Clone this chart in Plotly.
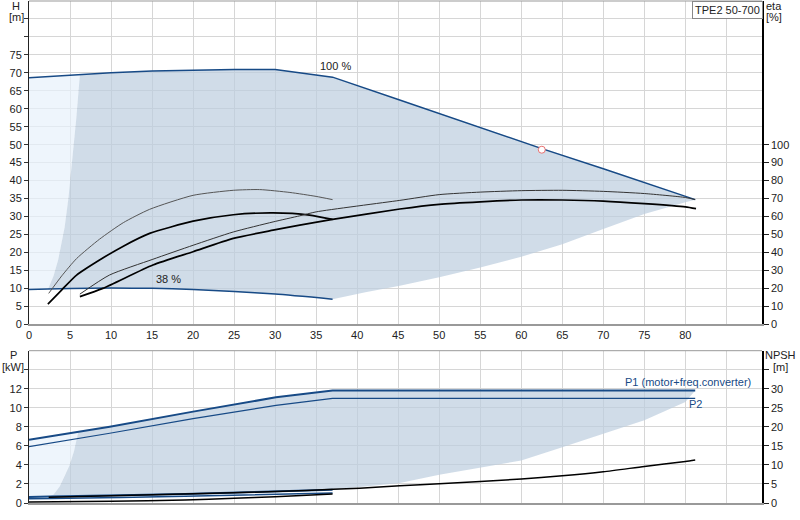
"""TPE2 50-700 pump curve chart: H/eta on top, P/NPSH below."""

import plotly.graph_objects as go

# ---- data (Q in m3/h) ----
# head at max speed (100 %) and min speed (38 %)
q_max = [0, 6.2, 10, 15, 20, 25, 30, 37, 45, 50, 55, 62.5, 70, 75, 81.2]
h_max = [68.6, 69.5, 70.0, 70.5, 70.8, 70.9, 70.9, 68.8, 62.6, 58.7, 54.9, 48.9, 43.3, 39.5, 34.7]
q_min = [0, 2.3, 5, 10, 15, 20, 25, 30, 37]
h_min = [9.7, 9.8, 9.95, 10.1, 10.0, 9.7, 9.1, 8.4, 7.0]

# envelope edges of the operating area (top panel)
q_env_left = [2.3, 3.0, 3.55, 4.35, 4.8, 5.29, 5.75, 6.2]
h_env_left = [9.7, 13.5, 17.9, 27.1, 35.0, 45.6, 57.0, 69.5]
q_env_low = [37, 41, 45.2, 50, 55, 60, 65, 70, 75, 80, 81.2]
h_env_low = [7.0, 8.9, 10.7, 13.1, 15.8, 18.8, 22.3, 26.5, 30.7, 34.0, 34.7]

# duty point
q_duty = [62.5]
h_duty = [48.6]

# H curves at selected speeds
q_h_thin = [2.4, 4, 5.8, 8.6, 11.5, 14.7, 20, 24.9, 28.1, 31.8, 35, 37]
h_h_thin = [8.6, 13.5, 18.3, 23.7, 28.3, 32.0, 35.9, 37.3, 37.5, 36.7, 35.6, 34.7]
q_h_thick = [2.3, 4, 5.8, 8.6, 11.5, 14.7, 20, 24.9, 29.75, 34.2, 37]
h_h_thick = [5.6, 9.6, 13.7, 17.9, 21.75, 25.3, 28.7, 30.5, 31.0, 30.4, 29.2]

# efficiency curves [%]
q_eta_thin = [6.2, 9.8, 15.1, 20, 24.9, 29.75, 33, 35, 45.2, 50, 55, 60, 65, 70, 75, 80, 81.2]
eta_thin = [16.8, 27.4, 36.2, 44.0, 51.4, 57.0, 60.4, 62.6, 69.0, 72.2, 73.6, 74.4, 74.6, 74.0, 72.8, 70.6, 69.4]
q_eta_thick = [6.2, 9.0, 15.1, 20, 24.9, 29.75, 33, 37, 45.2, 50, 55, 60, 65, 70, 75, 80, 81.3]
eta_thick = [15.4, 20.0, 33.0, 40.4, 47.8, 52.4, 55.2, 58.4, 64.2, 66.8, 68.2, 69.2, 69.2, 68.6, 67.2, 65.4, 64.4]

# power [kW]
q_p1 = [0, 6.0, 9.84, 20, 30.1, 37, 81.2]
p1 = [6.63, 7.47, 8.0, 9.6, 11.1, 11.83, 11.83]
q_p2 = [0, 9.84, 20, 30.1, 37, 81.2]
p2 = [5.93, 7.33, 8.86, 10.26, 11.0, 11.0]
q_p_low = [0, 2.5, 19, 37]
p1_low = [0.63, 0.67, 0.95, 1.38]
p2_low = [0.45, 0.48, 0.70, 1.05]
q_p_black = [0, 10, 19, 25, 30, 37]
p_black = [0.1, 0.18, 0.32, 0.5, 0.66, 0.95]

# envelope edges of the power area
q_penv_left = [2.5, 3.0, 3.74, 4.3, 4.96, 5.5, 6.0]
p_penv_left = [0.67, 0.9, 1.74, 2.8, 4.0, 5.5, 7.47]
q_penv_low = [37, 41, 45.2, 50, 55, 60, 65, 70, 75, 80, 81.2]
p_penv_low = [1.38, 1.7, 2.09, 2.96, 3.7, 4.47, 5.86, 7.26, 8.7, 10.6, 11.83]

# NPSH [m]
q_npsh = [2.4, 10, 20, 30, 33.8, 40.3, 45.2, 50, 60, 65, 70, 75, 80, 81.2]
npsh = [1.5, 1.9, 2.4, 3.0, 3.3, 3.9, 4.5, 5.05, 6.3, 7.15, 8.2, 9.6, 10.9, 11.3]

q_ticks = list(range(0, 90, 5))
h_ticks = list(range(0, 90, 5))
eta_ticks = list(range(0, 110, 10))
p_ticks = list(range(0, 16, 2))
npsh_ticks = list(range(0, 40, 5))

BLUE = "#174a86"
GRID = "#d6d6d6"
DARK_FILL = "rgba(188,205,222,0.7)"
LIGHT_FILL = "rgba(231,241,251,0.7)"
FONT = "Arial, Liberation Sans, sans-serif"


def seg(q, v, lo, hi):
    """Points of a curve with lo <= q <= hi."""
    pts = [(a, b) for a, b in zip(q, v) if lo <= a <= hi]
    return [p[0] for p in pts], [p[1] for p in pts]


def line(x, y, xa, ya, color="black", width=1.6, shape="spline"):
    return go.Scatter(x=x, y=y, xaxis=xa, yaxis=ya, mode="lines",
                      line=dict(color=color, width=width, shape=shape, smoothing=0.6),
                      hoverinfo="skip")


def poly(x, y, xa, ya, color):
    return go.Scatter(x=x, y=y, xaxis=xa, yaxis=ya, mode="lines", fill="toself",
                      fillcolor=color, line=dict(width=0), hoverinfo="skip")


fig = go.Figure()

# ---- top panel areas ----
lx, ly = seg(q_max, h_max, 0, 6.2)
mx, my = seg(q_min, h_min, 0, 2.3)
fig.add_trace(poly(lx + q_env_left[::-1] + mx[::-1], ly + h_env_left[::-1] + my[::-1],
                   "x", "y", LIGHT_FILL))

tx, ty = seg(q_max, h_max, 6.2, 81.2)
bx, by = seg(q_min, h_min, 2.3, 37)
fig.add_trace(poly(q_env_left + tx[1:] + q_env_low[::-1][1:] + bx[::-1][1:],
                   h_env_left + ty[1:] + h_env_low[::-1][1:] + by[::-1][1:],
                   "x", "y", DARK_FILL))

# ---- bottom panel areas ----
ax_, ay_ = seg(q_p1, p1, 0, 6.0)
cx, cy = seg(q_p_low, p1_low, 0, 2.5)
fig.add_trace(poly(ax_ + q_penv_left[::-1] + cx[::-1], ay_ + p_penv_left[::-1] + cy[::-1],
                   "x2", "y3", LIGHT_FILL))

ux, uy = seg(q_p1, p1, 6.0, 81.2)
dx, dy = seg(q_p_low, p1_low, 2.5, 37)
fig.add_trace(poly(q_penv_left + ux[1:] + q_penv_low[::-1][1:] + dx[::-1][1:],
                   p_penv_left + uy[1:] + p_penv_low[::-1][1:] + dy[::-1][1:],
                   "x2", "y3", DARK_FILL))

# ---- top panel curves ----
fig.add_trace(line(q_max, h_max, "x", "y", BLUE, 1.5, "linear"))
fig.add_trace(line(q_min, h_min, "x", "y", BLUE, 1.5))
fig.add_trace(line(q_h_thin, h_h_thin, "x", "y", "#555555", 1))
fig.add_trace(line(q_h_thick, h_h_thick, "x", "y", "black", 1.7))
fig.add_trace(line(q_eta_thin, eta_thin, "x", "y2", "#333333", 1))
fig.add_trace(line(q_eta_thick, eta_thick, "x", "y2", "black", 1.7))
fig.add_trace(go.Scatter(x=q_duty, y=h_duty, xaxis="x", yaxis="y", mode="markers",
                         marker=dict(symbol="circle", size=7, color="white",
                                     line=dict(color="#e87070", width=1)),
                         hoverinfo="skip"))

# ---- bottom panel curves ----
fig.add_trace(line(q_p1, p1, "x2", "y3", BLUE, 2, "linear"))
fig.add_trace(line(q_p2, p2, "x2", "y3", BLUE, 1.2, "linear"))
fig.add_trace(line(q_p_low, p1_low, "x2", "y3", BLUE, 2))
fig.add_trace(line(q_p_low, p2_low, "x2", "y3", BLUE, 1.5))
fig.add_trace(line(q_p_black, p_black, "x2", "y3", "black", 1.5))
fig.add_trace(line(q_npsh, npsh, "x2", "y4", "black", 1.5))

tick_font = dict(family=FONT, size=11, color="#222222")


def labels(vals, last):
    return [str(v) if v <= last else "" for v in vals]


xcommon = dict(range=[0, 89.34], tickvals=q_ticks, showgrid=True, gridcolor=GRID,
               zeroline=False, showline=True, linecolor="#999999", linewidth=2,
               ticks="", tickfont=tick_font, fixedrange=True, automargin=False)
ycommon = dict(showgrid=True, gridcolor=GRID, zeroline=False, showline=True,
               linecolor="#222222", linewidth=1, ticks="outside", ticklen=4,
               tickcolor="#333333", tickfont=tick_font, automargin=False)
yright = dict(showgrid=False, zeroline=False, showline=True, linecolor="black",
              linewidth=1.5, ticks="outside", ticklen=5, tickcolor="#222222",
              side="right", tickfont=tick_font, automargin=False)

fig.update_layout(
    width=800, height=520,
    margin=dict(l=29, r=38, t=1, b=17, autoexpand=False),
    paper_bgcolor="white", plot_bgcolor="white",
    showlegend=False,
    font=dict(family=FONT, size=11, color="#222222"),
    xaxis=dict(xcommon, anchor="y", ticktext=labels(q_ticks, 80)),
    xaxis2=dict(xcommon, anchor="y3", showticklabels=False),
    yaxis=dict(ycommon, domain=[0.356, 1], range=[0, 90], anchor="x",
               tickvals=h_ticks, ticktext=labels(h_ticks, 75)),
    yaxis2=dict(yright, overlaying="y", anchor="x", range=[0, 180],
                tickvals=eta_ticks),
    yaxis3=dict(ycommon, domain=[0, 0.3034], range=[0, 16], anchor="x2",
                tickvals=p_ticks, ticktext=labels(p_ticks, 12)),
    yaxis4=dict(yright, overlaying="y3", anchor="x2", range=[0, 40],
                tickvals=npsh_ticks, ticktext=labels(npsh_ticks, 30)),
)

# top borders of both panels
for y0 in (1, 0.3034):
    fig.add_shape(type="line", xref="paper", yref="paper", x0=0, x1=1, y0=y0, y1=y0,
                  line=dict(color="#999999", width=1))

notes = [
    dict(text="100 %", x=37.3, y=72.0, xref="x", yref="y"),
    dict(text="38 %", x=17.0, y=12.5, xref="x", yref="y"),
    # axis titles, one line each
    dict(text="H", x=-0.0177, y=88.6, xref="paper", yref="y"),
    dict(text="[m]", x=-0.0177, y=85.5, xref="paper", yref="y"),
    dict(text="eta", x=1.0164, y=88.6, xref="paper", yref="y"),
    dict(text="[%]", x=1.0164, y=85.5, xref="paper", yref="y"),
    dict(text="P", x=-0.0218, y=15.55, xref="paper", yref="y3"),
    dict(text="[kW]", x=-0.0218, y=14.3, xref="paper", yref="y3"),
    dict(text="NPSH", x=1.0252, y=15.5, xref="paper", yref="y3"),
    dict(text="[m]", x=1.0252, y=14.3, xref="paper", yref="y3"),
    dict(text="Q [m³/h]", x=84.4, y=-2.7, xref="x", yref="y", xanchor="left"),
    dict(text="P1 (motor+freq.converter)", x=88.3, y=12.74, xref="x2", yref="y3",
         xanchor="right", font=dict(family=FONT, size=11, color=BLUE)),
    dict(text="P2", x=81.2, y=10.37, xref="x2", yref="y3",
         font=dict(family=FONT, size=11, color=BLUE)),
    dict(text="TPE2 50-700", x=0.9523, y=0.983, xref="paper", yref="paper",
         bgcolor="white", bordercolor="#888888", borderwidth=1, borderpad=2),
]
for n in notes:
    n.setdefault("showarrow", False)
    n.setdefault("xanchor", "center")
    n.setdefault("yanchor", "middle")
    fig.add_annotation(**n)

# the page body has a default 8px margin; drop it so the 800x520 figure fits the window
fig.write_html("out.html", config={"displayModeBar": False},
               post_script="document.body.style.margin = '0';")
